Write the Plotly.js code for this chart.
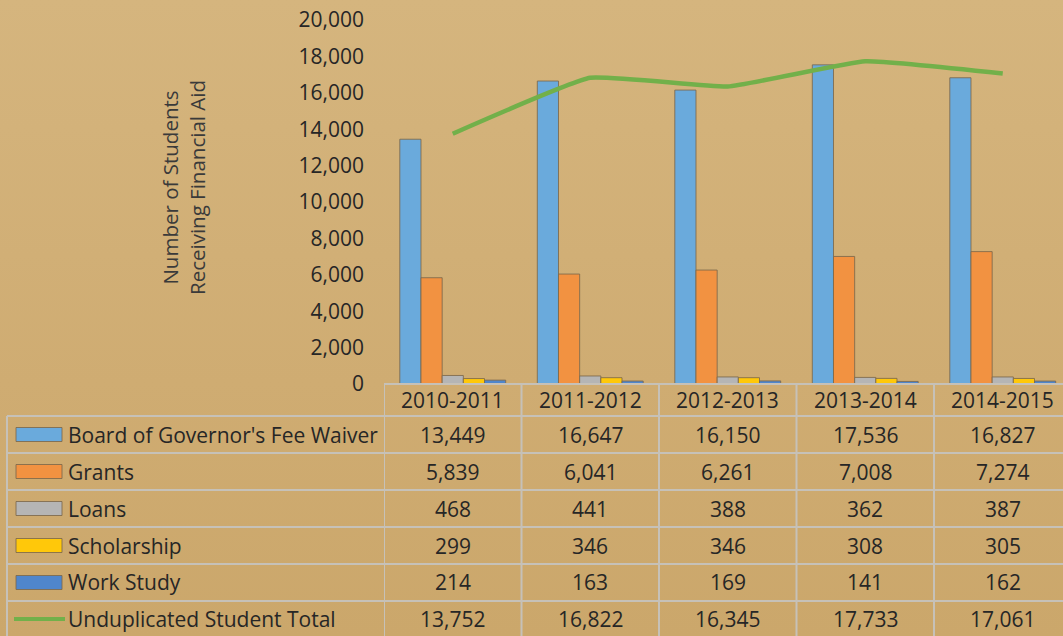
<!DOCTYPE html>
<html>
<head>
<meta charset="utf-8">
<script src="https://cdn.plot.ly/plotly-3.0.1.min.js"></script>
<style>
  html, body { margin:0; padding:0; }
  body { width:1063px; height:636px; overflow:hidden;
         background: linear-gradient(to bottom, #d5b57e 0%, #cfac72 60%, #cba76b 100%); }
  #chart { width:1063px; height:636px; }
</style>
</head>
<body>
<div id="chart"></div>
<script>
// ---- data ----
const years = ["2010-2011", "2011-2012", "2012-2013", "2013-2014", "2014-2015"];
const seriesNames = ["Board of Governor's Fee Waiver", "Grants", "Loans", "Scholarship", "Work Study"];
const feeWaiver   = [13449, 16647, 16150, 17536, 16827];
const grants      = [5839, 6041, 6261, 7008, 7274];
const loans       = [468, 441, 388, 362, 387];
const scholarship = [299, 346, 346, 308, 305];
const workStudy   = [214, 163, 169, 141, 162];
const totalName   = "Unduplicated Student Total";
const unduplicatedTotal = [13752, 16822, 16345, 17733, 17061];
const yTickVals = [0, 2000, 4000, 6000, 8000, 10000, 12000, 14000, 16000, 18000, 20000];

// ---- styling ----
const barColors = ["#6aaadc", "#f29241", "#b5b5b5", "#ffc80a", "#4f86cc"];
const lineColor = "#72b04a";
const txt = "#262626";
const FONT = "Open Sans";
const FS = 21;
const gridCol = "#c6c1b8";

const barSeries = [feeWaiver, grants, loans, scholarship, workStudy];

// pixel helpers (plot area: x 384..1063, y 20..384)
const L = 384, R = 1063, T = 20, B = 384;
const px = p => (p - L) / (R - L);
const py = p => (B - p) / (B - T);

const traces = barSeries.map((vals, i) => ({
  type: "bar", name: seriesNames[i], x: years, y: vals,
  marker: { color: barColors[i], line: { color: "rgba(125,105,75,0.85)", width: 1 } },
  hoverinfo: "skip"
}));
traces.push({
  type: "scatter", mode: "lines", name: totalName, x: years, y: unduplicatedTotal,
  line: { color: lineColor, width: 4.5, shape: "spline", smoothing: 0.35 },
  hoverinfo: "skip"
});

const shapes = [];
const annotations = [];
const hline = (y, x0, x1) => shapes.push({ type: "line", xref: "paper", yref: "paper",
  x0: px(x0), x1: px(x1), y0: py(y), y1: py(y), line: { color: gridCol, width: 2 } });
// horizontal table lines
hline(384, 384, 1063);
[416, 453, 490, 527, 564, 601].forEach(y => hline(y, 7, 1063));
// vertical lines
shapes.push({ type: "line", xref: "paper", yref: "paper", x0: px(7), x1: px(7),
  y0: py(416), y1: py(640), line: { color: gridCol, width: 2 } });
for (let i = 0; i <= years.length; i++) {
  shapes.push({ type: "line", xref: "x", yref: "paper", x0: i - 0.5, x1: i - 0.5,
    y0: py(384), y1: py(640), line: { color: gridCol, width: 2 } });
}

// header labels
years.forEach((yr, i) => annotations.push({ xref: "x", yref: "paper", x: i, y: py(400),
  text: yr, showarrow: false, xanchor: "center", yanchor: "middle",
  font: { family: FONT, size: FS, color: txt } }));

const rowCenters = [434.5, 471.5, 508.5, 545.5, 582.5, 619];
const fmt = v => v.toLocaleString("en-US");
const allRows = barSeries.concat([unduplicatedTotal]);
const allNames = seriesNames.concat([totalName]);
allRows.forEach((vals, r) => {
  const yc = rowCenters[r];
  annotations.push({ xref: "paper", yref: "paper", x: px(66), y: py(yc), text: allNames[r],
    showarrow: false, xanchor: "left", yanchor: "middle",
    font: { family: FONT, size: FS, color: txt } });
  if (r < barSeries.length) {
    shapes.push({ type: "rect", xref: "paper", yref: "paper", x0: px(16), x1: px(62),
      y0: py(yc - 7), y1: py(yc + 7), fillcolor: barColors[r],
      line: { color: "rgba(125,105,75,0.85)", width: 1 } });
  } else {
    shapes.push({ type: "line", xref: "paper", yref: "paper", x0: px(14), x1: px(65),
      y0: py(yc), y1: py(yc), line: { color: lineColor, width: 4 } });
  }
  vals.forEach((v, i) => annotations.push({ xref: "x", yref: "paper", x: i, y: py(yc),
    text: fmt(v), showarrow: false, xanchor: "center", yanchor: "middle",
    font: { family: FONT, size: FS, color: txt } }));
});

// y-axis title
annotations.push({ xref: "paper", yref: "paper", x: px(183), y: py(188),
  text: "Number of Students<br>Receiving Financial Aid", textangle: -90, showarrow: false,
  xanchor: "center", yanchor: "middle", font: { family: FONT, size: 20.5, color: "#3a3a3a" } });

const layout = {
  width: 1063, height: 636,
  margin: { l: L, r: 1063 - R, t: T, b: 636 - B, pad: 0 },
  paper_bgcolor: "rgba(0,0,0,0)", plot_bgcolor: "rgba(0,0,0,0)",
  showlegend: false, barmode: "group", bargap: 0.23, bargroupgap: 0,
  font: { family: FONT, color: txt },
  xaxis: { type: "category", range: [-0.5, -0.5 + (R - L) / 137.5], showticklabels: false,
    showgrid: false, zeroline: false, showline: false, ticks: "" },
  yaxis: { range: [0, 20000], tickvals: yTickVals, tickformat: ",d", showgrid: false,
    zeroline: false, showline: false, ticks: "", ticklabelstandoff: 19,
    tickfont: { family: FONT, size: FS, color: txt } },
  shapes: shapes, annotations: annotations
};

Plotly.newPlot("chart", traces, layout, { staticPlot: true, displayModeBar: false });
</script>
</body>
</html>
